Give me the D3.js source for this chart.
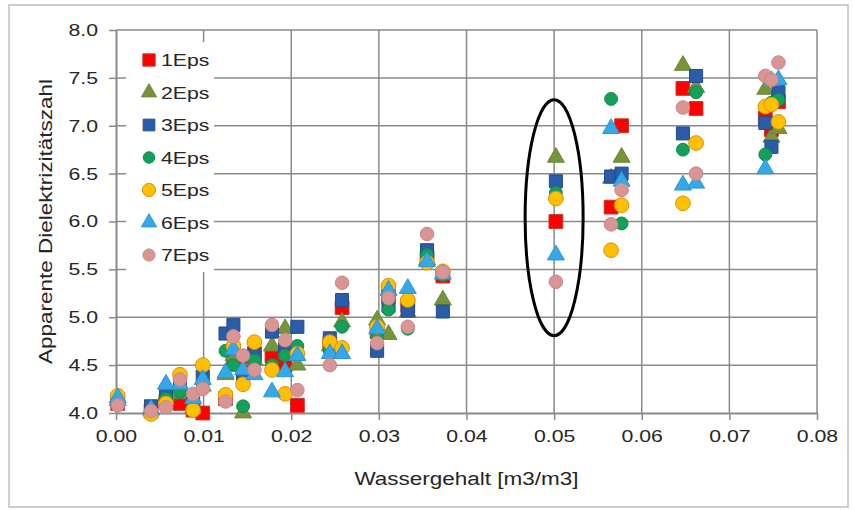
<!DOCTYPE html>
<html>
<head>
<meta charset="utf-8">
<script src="https://cdn.jsdelivr.net/npm/d3@7"></script>
<style>
  body { margin: 0; background: #fff; }
  text { font-family: "Liberation Sans", Arial, sans-serif; fill: #262626; }
</style>
</head>
<body>
<div id="chart"></div>
<script>
// water content columns (m3/m3) where measurements were taken
const wassergehalt = [0.0002, 0.0040, 0.0057, 0.0073, 0.0088, 0.0099, 0.0125, 0.0134, 0.0145, 0.0158,
    0.0178, 0.0193, 0.0207, 0.0244, 0.0258, 0.0298, 0.0311, 0.0333, 0.0355, 0.0373,
    0.0502, 0.0565, 0.0577, 0.0647, 0.0662, 0.0741, 0.0748, 0.0756];

// apparent permittivity per series, one value per column above
const eps1 = [4.10, 4.02, 4.12, 4.10, 4.03, 4.00, 4.15, 4.55, 4.50, 4.62, 4.60, 4.50, 4.08, 4.72,
    5.10, 4.85, 5.22, 5.12, 5.62, 5.43, 6.00, 6.15, 7.00, 7.39, 7.18, 7.08, 6.96, 7.25];
const eps2 = [4.13, 4.03, 4.18, 4.20, 4.05, 4.28, 4.40, 4.60, 4.00, 4.55, 4.70, 4.88, 4.50, 4.70,
    4.95, 4.97, 4.82, 5.05, 5.60, 5.18, 6.67, 6.45, 6.67, 7.63, 7.40, 7.38, 6.88, 6.97];
const eps3 = [4.12, 4.07, 4.20, 4.30, 4.15, 4.38, 4.83, 4.92, 4.40, 4.60, 4.85, 4.70, 4.90, 4.78,
    5.18, 4.65, 5.12, 5.07, 5.70, 5.06, 6.42, 6.47, 6.50, 6.92, 7.52, 7.03, 6.78, 7.35];
const eps4 = [4.10, 4.02, 4.15, 4.22, 4.10, 4.30, 4.65, 4.50, 4.07, 4.55, 4.50, 4.60, 4.70, 4.65,
    4.90, 4.80, 5.08, 4.88, 5.65, 5.44, 6.30, 7.28, 5.98, 6.75, 7.35, 6.70, 7.24, 7.27];
const eps5 = [4.18, 3.99, 4.10, 4.40, 4.03, 4.50, 4.19, 4.70, 4.30, 4.74, 4.45, 4.20, 4.62, 4.74,
    4.68, 4.90, 5.33, 5.18, 5.57, 5.48, 6.24, 5.70, 6.17, 6.19, 6.82, 7.20, 7.22, 7.04];
const eps6 = [4.16, 4.04, 4.30, 4.30, 4.15, 4.35, 4.42, 4.66, 4.45, 4.40, 4.22, 4.43, 4.60, 4.62,
    4.62, 4.88, 5.28, 5.30, 5.58, 5.45, 5.65, 6.97, 6.42, 6.38, 6.40, 6.55, 7.47, 7.48];
const eps7 = [4.08, 4.02, 4.06, 4.35, 4.20, 4.25, 4.12, 4.80, 4.60, 4.45, 4.92, 4.76, 4.24, 4.50,
    5.36, 4.73, 5.20, 4.90, 5.87, 5.47, 5.37, 5.97, 6.33, 7.19, 6.50, 7.52, 7.48, 7.66];

const seriesNames = ['1Eps', '2Eps', '3Eps', '4Eps', '5Eps', '6Eps', '7Eps'];
const xTicks = [0, 0.01, 0.02, 0.03, 0.04, 0.05, 0.06, 0.07, 0.08];
const yTicks = [4.0, 4.5, 5.0, 5.5, 6.0, 6.5, 7.0, 7.5, 8.0];
// the circled column
const highlightX = 0.05;

const styles = [
    { sym: d3.symbolSquare,   fill: '#ff0000', stroke: '#c0392b', size: 190 },
    { sym: d3.symbolTriangle, fill: '#77933c', stroke: '#6b8a35', size: 125 },
    { sym: d3.symbolSquare,   fill: '#2a5caa', stroke: '#1f4e8c', size: 170 },
    { sym: d3.symbolCircle,   fill: '#12a05a', stroke: '#0f8a4c', size: 130 },
    { sym: d3.symbolCircle,   fill: '#ffc000', stroke: '#e08e0b', size: 170 },
    { sym: d3.symbolTriangle, fill: '#35a8ea', stroke: '#2b95d6', size: 125 },
    { sym: d3.symbolCircle,   fill: '#d99594', stroke: '#cc8686', size: 145 }
];

// text in the original is a bit wider than Arial, stretch horizontally
const stretch = 1.25;

const W = 853, H = 510;
const margin = { top: 30, right: 36, bottom: 97, left: 116 };

const svg = d3.select('#chart').append('svg')
    .attr('width', W)
    .attr('height', H);

// outer frame
svg.append('rect')
    .attr('x', 9).attr('y', 5)
    .attr('width', 839).attr('height', 502)
    .attr('fill', 'none')
    .attr('stroke', '#bfbfbf')
    .attr('stroke-width', 1.5);

const x = d3.scaleLinear().domain([0, 0.08]).range([margin.left, W - margin.right]);
const y = d3.scaleLinear().domain([4, 8]).range([H - margin.bottom, margin.top]);

const gridColor = '#8a8a8a';

// gridlines
svg.append('g').selectAll('line.v')
    .data(xTicks.slice(1))
    .join('line')
    .attr('x1', d => x(d)).attr('x2', d => x(d))
    .attr('y1', y(4)).attr('y2', y(8))
    .attr('stroke', gridColor).attr('stroke-width', 1.5);

svg.append('g').selectAll('line.h')
    .data(yTicks.slice(1))
    .join('line')
    .attr('x1', x(0)).attr('x2', x(0.08))
    .attr('y1', d => y(d)).attr('y2', d => y(d))
    .attr('stroke', gridColor).attr('stroke-width', 1.5);

// axes
const xAxis = svg.append('g')
    .attr('transform', `translate(0,${y(4)})`)
    .call(d3.axisBottom(x).tickValues(xTicks).tickFormat(d3.format('.2f')).tickSize(7).tickSizeOuter(0));
const yAxis = svg.append('g')
    .attr('transform', `translate(${x(0)},0)`)
    .call(d3.axisLeft(y).tickValues(yTicks).tickFormat(d3.format('.1f')).tickSize(7).tickSizeOuter(0));

[xAxis, yAxis].forEach(g => {
    g.select('.domain').attr('stroke', gridColor).attr('stroke-width', 2);
    g.selectAll('.tick line').attr('stroke', gridColor).attr('stroke-width', 1.5);
    g.selectAll('.tick text')
        .attr('font-size', 17)
        .attr('font-family', '"Liberation Sans", Arial, sans-serif')
        .attr('fill', '#262626')
        .attr('transform', `scale(${stretch},1)`);
});
xAxis.selectAll('.tick text').attr('y', 13).attr('dy', '0.95em');
yAxis.selectAll('.tick text').attr('x', -18 / stretch);

// axis titles
svg.append('text')
    .attr('transform', `translate(${(x(0) + x(0.08)) / 2},485) scale(${stretch},1)`)
    .attr('text-anchor', 'middle')
    .attr('font-size', 18)
    .text('Wassergehalt [m3/m3]');

svg.append('text')
    .attr('transform', `translate(52,${(y(4) + y(8)) / 2}) rotate(-90) scale(${stretch},1)`)
    .attr('text-anchor', 'middle')
    .attr('font-size', 18)
    .text('Apparente Dielektrizitätszahl');

// points
const allSeries = [eps1, eps2, eps3, eps4, eps5, eps6, eps7];
allSeries.forEach((vals, i) => {
    const st = styles[i];
    svg.append('g').selectAll('path')
        .data(vals.map((v, j) => [wassergehalt[j], v]))
        .join('path')
        .attr('transform', d => `translate(${x(d[0])},${y(d[1])})`)
        .attr('d', d3.symbol().type(st.sym).size(st.size))
        .attr('fill', st.fill)
        .attr('stroke', st.stroke)
        .attr('stroke-width', 1);
});

// ellipse around the 0.05 column
svg.append('ellipse')
    .attr('cx', x(highlightX))
    .attr('cy', y(6.04))
    .attr('rx', 29)
    .attr('ry', 118)
    .attr('fill', 'none')
    .attr('stroke', '#000')
    .attr('stroke-width', 3);

// legend
const legend = svg.append('g');
legend.append('rect')
    .attr('x', 126).attr('y', 42)
    .attr('width', 88).attr('height', 230)
    .attr('fill', '#fff');

seriesNames.forEach((name, i) => {
    const st = styles[i];
    const ly = 60 + i * 32.5;
    legend.append('path')
        .attr('transform', `translate(149,${ly})`)
        .attr('d', d3.symbol().type(st.sym).size(st.size * 0.8))
        .attr('fill', st.fill)
        .attr('stroke', st.stroke);
    legend.append('text')
        .attr('transform', `translate(161,${ly}) scale(${stretch},1)`)
        .attr('dy', '0.36em')
        .attr('font-size', 17)
        .text(name);
});
</script>
</body>
</html>
